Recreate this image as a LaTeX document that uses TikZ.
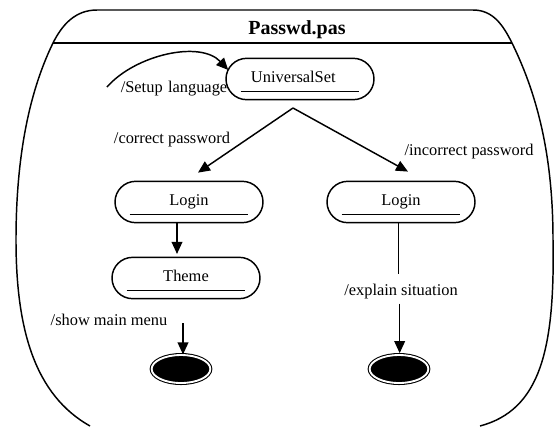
\documentclass[tikz,border=0pt]{standalone}
\usepackage{fontspec}
\setmainfont{Liberation Serif}
\usetikzlibrary{shapes.misc,shapes.geometric,arrows.meta}

\begin{document}
\begin{tikzpicture}[x=0.75pt,y=-0.75pt]
  \tikzset{ st/.style={rounded rectangle,draw,line width=1.1pt,minimum width=111pt,minimum height=31pt,inner sep=0pt,
      font=\fontsize{12.3}{14}\selectfont,
      path picture={\draw[line width=0.7pt] ([xshift=11pt,yshift=6.5pt]path picture bounding box.south west)
        -- ([xshift=-11pt,yshift=6.5pt]path picture bounding box.south east);}},
    fin/.style={ellipse,draw=black,fill=black,double=white,double distance=1.4pt,line width=0.8pt,
      minimum width=44pt,minimum height=21pt,inner sep=0pt},
    lbl/.style={font=\fontsize{12.3}{14}\selectfont,inner sep=0pt},
    tri/.style={-{Triangle[length=9pt,width=8pt]},line width=1.1pt},
  }
  \useasboundingbox (0,0) rectangle (555,426);

  % the outer state
  \draw[line width=1.1pt] (90,426) .. controls (35,395) and (16,330) .. (16,240)
    .. controls (16,140) and (35,80) .. (53,43) .. controls (62,25) and (75,10) .. (97,10)
    -- (473,10) .. controls (493,10) and (503,25) .. (512,43)
    .. controls (535,90) and (553,150) .. (553,240) .. controls (555,350) and (540,410) .. (480,426);
  \draw[line width=1.1pt] (53,43) -- (512,43);
  \node[font=\fontsize{15}{17}\selectfont\bfseries] (title) at (297,30) {Passwd.pas};

  \node[st] (us) at (300,79) {\raisebox{3pt}{UniversalSet\hspace{10pt}}};
  \node[st] (loginL) at (189,202) {\raisebox{3pt}{Login}};
  \node[st] (loginR) at (401,202) {\raisebox{3pt}{Login}};
  \node[st] (theme) at (186,278) {\raisebox{3pt}{Theme}};
  \node[fin] (endL) at (181,369) {};
  \node[fin] (endR) at (399,369) {};

  \coordinate (split) at (293,108);
  \coordinate (setstart) at (107,87);
  \coordinate (showtop) at (183,323);

  \node[lbl] (setup) at (174,89) {/Setup\hspace{4pt}language};
  \node[lbl] (correct) at (172,140) {/correct password};
  \node[lbl] (incorrect) at (469,152) {/incorrect password};
  \node[lbl] (show) at (109,320) {/show main menu};
  \node[lbl] (explain) at (401,292) {/explain situation};

  % the connection between the states
  \draw[tri] (setstart) .. controls (135,55) and (200,40) .. ([shift={(3,-9)}]us.west);
  \draw[tri] (split) -- ([shift={(9,-8)}]loginL.north);
  \draw[tri] (split) -- ([shift={(7,-9)}]loginR.north);
  \draw[tri] ([xshift=-9pt]loginL.south) -- ([xshift=-9pt,yshift=2pt]loginL.south |- theme.north);
  \draw[tri] (showtop) -- (showtop |- endL.north);
  \draw[line width=1.1pt] ([xshift=-2pt]loginR.south) -- ([xshift=-2pt,yshift=8pt]loginR.south |- explain.north);
  \draw[tri] ([xshift=-1pt,yshift=-3pt]explain.south) -- ([xshift=-1pt,yshift=1pt]explain.south |- endR.north);
\end{tikzpicture}
\end{document}
